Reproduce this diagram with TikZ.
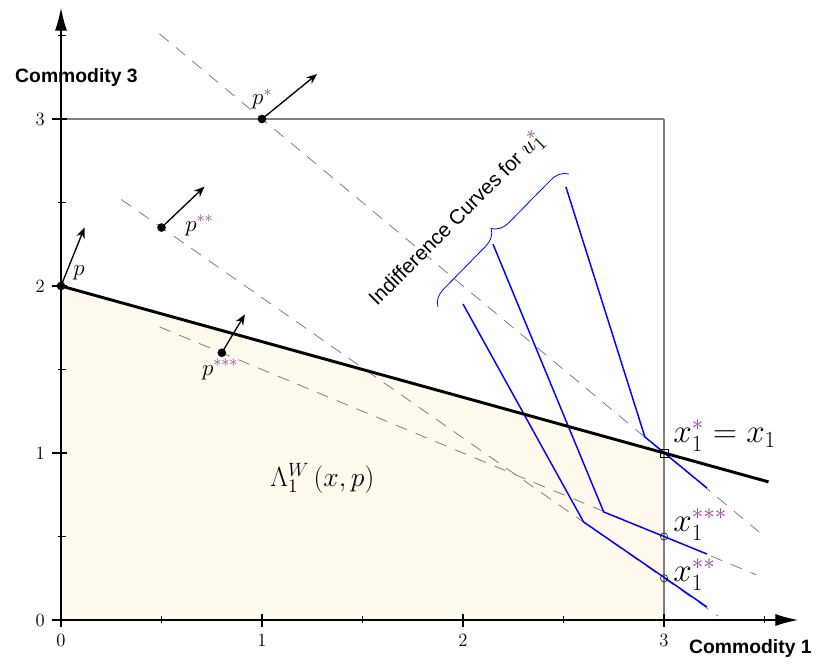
\documentclass[tikz,border=0pt]{standalone}
\usepackage{fontspec}
\newfontfamily\labsans{Liberation Sans}
\usetikzlibrary{arrows.meta,decorations.pathreplacing}
\definecolor{fillc}{RGB}{255,249,238}
\definecolor{starc}{RGB}{150,60,150}
\definecolor{dashc}{RGB}{125,125,125}
\definecolor{boxc}{RGB}{128,128,128}
\newcommand{\stc}[1]{\textcolor{starc}{#1}}
\newcommand{\ticksize}{\fontsize{14}{16}\selectfont}
\begin{document}
\begin{tikzpicture}[x=150.75pt,y=125.25pt,
  dot/.style={circle,fill=black,inner sep=0pt,minimum size=6.5pt},
  smallsq/.style={draw=black,line width=0.4pt,inner sep=0pt,minimum size=6pt,fill=none},
  smallcirc/.style={circle,draw=black,line width=0.4pt,inner sep=0pt,minimum size=5.5pt},
  pvec/.style={-{Stealth[length=8pt,width=6.5pt]},line width=1pt},
  dashln/.style={dashc,dash pattern=on 9pt off 7pt,line width=0.6pt},
  icurve/.style={blue,line width=1.1pt},
  budget/.style={black,line width=2.2pt},
  axarrow/.style={-{Latex[length=17pt,width=9pt]},line width=0.8pt},
  ticklab/.style={inner sep=0pt},
  axlab/.style={font=\labsans\bfseries\fontsize{14.5}{16}\selectfont,inner sep=0pt,anchor=base west},
  plab/.style={font=\fontsize{18}{21}\selectfont,inner sep=0pt,anchor=base west},
  xlab/.style={font=\fontsize{23}{26}\selectfont,inner sep=0pt,anchor=base west},
]
\useasboundingbox (-0.3035,-0.2695) rectangle (3.801,3.7126);

% feasible region
\fill[fillc] (0,0) -- (0,2) -- (3,1) -- (3,0) -- cycle;

% box
\draw[boxc,line width=1.4pt] (0,3) -- (3,3);
\draw[boxc,line width=2pt] (3,3) -- (3,0);

% axes
\coordinate (O) at (0,0);
\coordinate (ytip) at (0,3.665);
\coordinate (xtip) at (3.667,0);
\draw[axarrow] (O) -- (ytip);
\draw[axarrow] (O) -- (xtip);
\draw[line width=2pt] (0,2) -- (O) -- (3,0);

% ticks
\foreach \v in {0,1,2,3} {
  \draw[line width=0.8pt] (-0.045,\v) -- (0.03,\v);
  \draw[line width=0.8pt] (\v,-0.042) -- (\v,0.035);
  \node[ticklab] (yl\v) at (-0.104,\v) {\ticksize\v};
  \node[ticklab] (xl\v) at (\v,-0.12) {\ticksize\v};
}
\foreach \v in {0.5,1.5,2.5,3.5} {
  \draw[line width=0.6pt] (-0.015,\v) -- (0.025,\v);
  \draw[line width=0.6pt] (\v,-0.015) -- (\v,0.025);
}

% axis labels
\node[axlab] (c3) at (-0.229,3.216) {Commodity 3};
\node[axlab] (c1) at (3.124,-0.198) {Commodity 1};

% dashed price lines
\coordinate (d1a) at (0.49,3.51);
\coordinate (d1b) at (3.5,0.5);
\coordinate (d2a) at (0.3,2.518);
\coordinate (d2b) at (3.27,0.023);
\coordinate (d3a) at (0.49,1.755);
\coordinate (d3b) at (3.46,0.27);
\draw[dashln] (d1a) -- (d1b);
\draw[dashln] (d2a) -- (d2b);
\draw[dashln] (d3a) -- (d3b);

% indifference curves
\coordinate (a1) at (2.512,2.593);
\coordinate (a2) at (2.905,1.096);
\coordinate (a3) at (3.214,0.79);
\coordinate (b1) at (2.149,2.251);
\coordinate (b2) at (2.70,0.647);
\coordinate (b3) at (3.214,0.395);
\coordinate (c1a) at (2.0,1.892);
\coordinate (c2a) at (2.60,0.587);
\coordinate (c3a) at (3.214,0.078);
\draw[icurve] (a1) -- (a2) -- (a3);
\draw[icurve] (b1) -- (b2) -- (b3);
\draw[icurve] (c1a) -- (c2a) -- (c3a);

% budget line
\coordinate (bl0) at (0,2);
\coordinate (bl1) at (3.52,0.827);
\draw[budget] (bl0) -- (bl1);

% price points and vectors
\node[dot] (p0) at (0,2) {};
\node[dot] (ps) at (1,3) {};
\node[dot] (pss) at (0.5,2.35) {};
\node[dot] (psss) at (0.8,1.6) {};
\coordinate (v0) at (0.117,2.35);
\coordinate (vs) at (1.274,3.269);
\coordinate (vss) at (0.714,2.595);
\coordinate (vsss) at (0.915,1.83);
\draw[pvec] (p0.center) -- (v0);
\draw[pvec] (ps.center) -- (vs);
\draw[pvec] (pss.center) -- (vss);
\draw[pvec] (psss.center) -- (vsss);

\node[plab] (lp0) at (0.060,2.060) {$p$};
\node[plab] (lps) at (0.950,3.084) {$p^{\stc{*}}$};
\node[plab] (lpss) at (0.617,2.329) {$p^{\stc{**}}$};
\node[plab] (lpsss) at (0.701,1.467) {$p^{\stc{***}}$};

% bundles
\node[smallsq] (x1) at (3,1) {};
\node[smallcirc] (x3) at (3,0.5) {};
\node[smallcirc] (x2) at (3,0.25) {};
\node[xlab] (lx1) at (3.045,1.060) {$x_1^{\stc{*}}=x_1$};
\node[xlab] (lx3) at (3.045,0.527) {$x_1^{\stc{***}}$};
\node[xlab] (lx2) at (3.045,0.228) {$x_1^{\stc{**}}$};

% region label
\node[font=\fontsize{22}{25}\selectfont,inner sep=0pt,anchor=base west] (lam) at (1.040,0.802) {$\Lambda_1^W\,(x,p)$};

% brace and text
\coordinate (br0) at (1.876,1.874);
\coordinate (br1) at (2.527,2.671);
\draw[blue,line width=0.6pt,decorate,decoration={brace,amplitude=13pt}] (br0) -- (br1);
\node[font=\labsans\fontsize{15.4}{18}\selectfont,inner sep=0pt,anchor=base west,rotate=45] (ictext) at (1.572,1.874) {Indifference Curves for {\fontsize{19}{22}\selectfont$u_1^{\stc{*}}$}};
\end{tikzpicture}
\end{document}
